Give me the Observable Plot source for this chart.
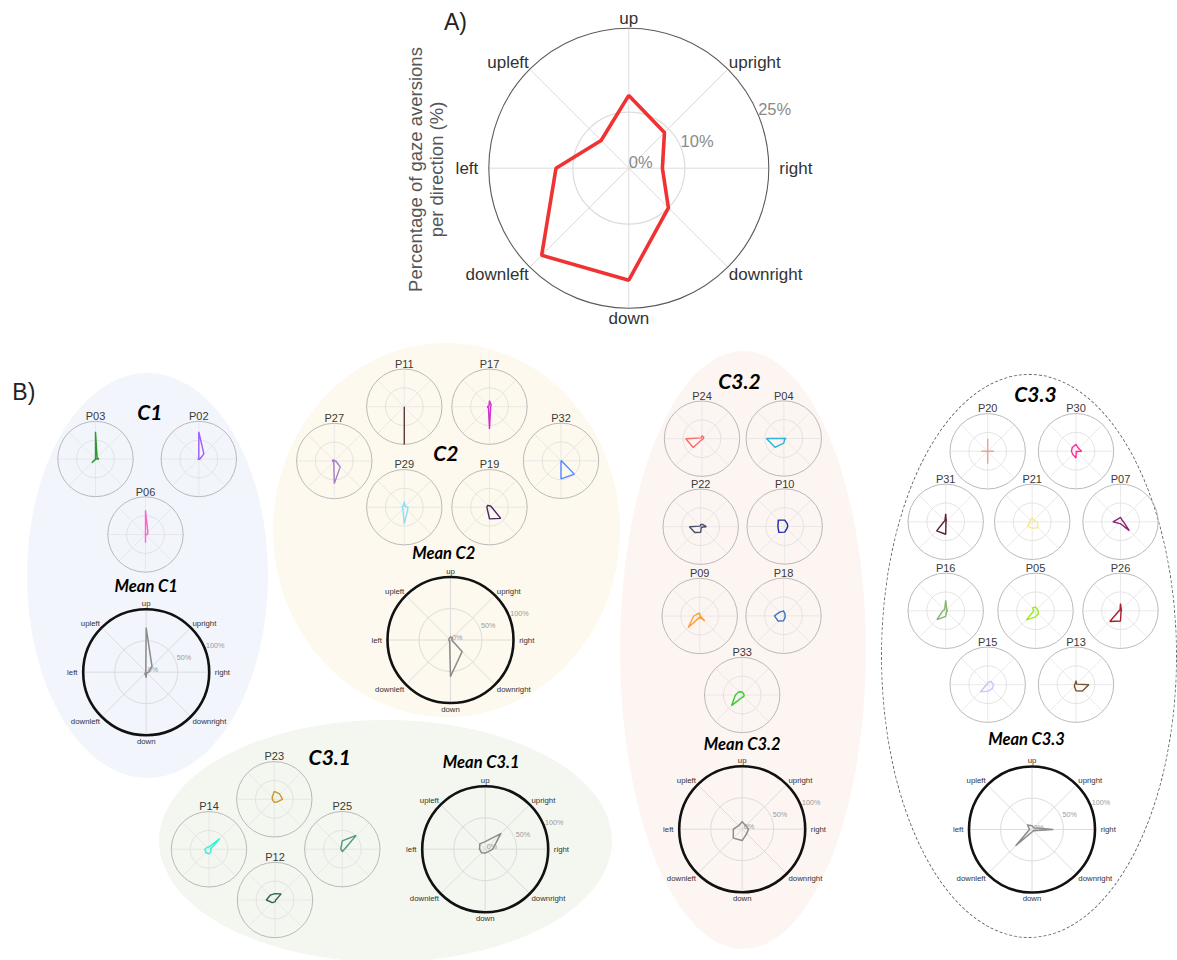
<!DOCTYPE html>
<html>
<head>
<meta charset="utf-8">
<script src="https://cdn.jsdelivr.net/npm/d3@7"></script>
<script src="https://cdn.jsdelivr.net/npm/@observablehq/plot@0.6"></script>
<style>
  html, body { margin: 0; padding: 0; background: #ffffff; }
  #wrap { position: relative; width: 1177px; height: 960px; overflow: hidden; background: #fff; }
  .ell { position: absolute; border-radius: 50%; box-sizing: border-box; }
  #chart { position: absolute; left: 0; top: 0; }
</style>
</head>
<body>
<div id="wrap"><div id="chart"></div></div>
<script>
// ---------------- DATA ----------------
const directions = ["up", "upright", "right", "downright", "down", "downleft", "left", "upleft"];

// Panel A: percentage of gaze aversions per direction (%)
const panelAValues = [13, 9, 6, 10, 20, 22, 13, 7];
const panelATicks = [0, 10, 25];
const panelATickLabels = ["0%", "10%", "25%"];

// Panel B: per-participant and per-cluster mean profiles (% of participant's aversions)
const meanTicks = [0, 50, 100];
const meanTickLabels = ["0%", "50%", "100%"];

const c1Names = ["P03", "P02", "P06"];
const c1Values = [
  [72, 6, 9, 0, 1, 14, 0, 0],
  [72, 19, 3, 1, 1, 1, 3, 0],
  [64, 9, 5, 0, 22, 0, 0, 0]
];
const c1Mean = [70, 13, 4, 1, 8, 3, 0, 1];

const c2Names = ["P11", "P17", "P27", "P32", "P29", "P19"];
const c2Values = [
  [0, 0, 0, 0, 100, 0, 0, 0],
  [16, 6, 3, 4, 59, 4, 6, 2],
  [1, 1, 4, 22, 60, 2, 5, 5],
  [0, 0, 1, 50, 48, 0, 0, 1],
  [15, 3, 10, 12, 44, 6, 6, 4],
  [4, 4, 6, 42, 31, 8, 7, 7]
];
const c2Mean = [5, 4, 2, 26, 58, 2, 3, 3];

const c31Names = ["P23", "P14", "P25", "P12"];
const c31Values = [
  [21, 20, 22, 10, 8, 5, 5, 8],
  [6, 40, 4, 8, 12, 12, 11, 7],
  [22, 52, 6, 4, 7, 3, 4, 5],
  [17, 23, 2, 2, 5, 10, 23, 18]
];
const c31Mean = [12, 35, 12, 6, 6, 8, 9, 12];

const c32Names = ["P24", "P04", "P22", "P10", "P09", "P18", "P33"];
const c32Values = [
  [8, 6, 4, 1, 2, 33, 43, 3],
  [0, 0, 6, 3, 12, 33, 46, 0],
  [6, 8, 15, 2, 15, 22, 30, 2],
  [17, 10, 8, 8, 15, 22, 18, 24],
  [8, 1, 2, 19, 3, 43, 16, 8],
  [13, 6, 4, 6, 13, 20, 24, 14],
  [8, 5, 5, 6, 6, 40, 18, 12]
];
const c32Mean = [12, 8, 10, 10, 18, 20, 14, 8];

const c33Names = ["P20", "P30", "P31", "P21", "P07", "P16", "P05", "P26", "P15", "P13"];
const c33Values = [
  [33, 0, 17, 0, 33, 0, 17, 0],
  [18, 10, 15, 1, 18, 12, 12, 14],
  [21, 2, 1, 1, 33, 34, 5, 3],
  [11, 5, 14, 22, 17, 17, 7, 7],
  [12, 6, 8, 33, 5, 6, 20, 10],
  [28, 4, 5, 3, 15, 33, 8, 4],
  [10, 6, 7, 11, 16, 34, 5, 11],
  [19, 3, 3, 2, 27, 40, 4, 2],
  [6, 12, 16, 16, 17, 27, 4, 2],
  [11, 2, 34, 24, 16, 6, 4, 3]
];
const c33Mean = [6, 4, 33, 3, 4, 36, 4, 10];

const clusterNames = ["C1", "C2", "C3.1", "C3.2", "C3.3"];

// ---------------- STYLES ----------------
const participantColors = {
  P03: "#2e9a2e", P02: "#9d5cff", P06: "#ff66cc",
  P11: "#5c3b3b", P17: "#d22ad2", P27: "#a87ccc", P32: "#5588ff", P29: "#88e0f8", P19: "#4b2466",
  P23: "#c89a2a", P14: "#33f0d8", P25: "#4a9a80", P12: "#2f6655",
  P24: "#ff6b6b", P04: "#2ab4d8", P22: "#4d4d6a", P10: "#2222aa", P09: "#ffa033", P18: "#3a70c0", P33: "#33cc33",
  P20: "#e8a595", P30: "#ff2b94", P31: "#5c1f33", P21: "#f7e88a", P07: "#8f2277", P16: "#85b370",
  P05: "#99ee22", P26: "#a8202e", P15: "#c4c4ff", P13: "#7a5230"
};
const ellipseStyles = [
  {cx: 385.5, cy: 841, rx: 226.5, ry: 121, bg: "#f3f7ef", border: "none"},
  {cx: 147.5, cy: 575.5, rx: 120.5, ry: 202.5, bg: "#f2f5fc", border: "none"},
  {cx: 446.5, cy: 530, rx: 173.5, ry: 187, bg: "#fdf9ee", border: "none"},
  {cx: 743, cy: 650, rx: 123, ry: 299, bg: "#fdf5f1", border: "none"},
  {cx: 1029, cy: 656, rx: 148, ry: 282, bg: "transparent", border: "1px dashed #666"}
];

// ---------------- LAYOUT ----------------
const W = 1177, H = 960;
const layoutA = {cx: 628.3, cy: 167.7, r: 140, max: 25};
const miniR = 37.7, meanR = 63;
const clusterLayouts = [
  {title: [149.3, 413], meanTitle: [145.7, 586], mean: [145.7, 671.7],
   minis: [[95, 458.5], [198.3, 458.5], [145, 534]]},
  {title: [445.3, 454], meanTitle: [443.3, 553.3], mean: [450, 639.5],
   minis: [[403.8, 406.2], [489, 406.2], [333.8, 460.5], [560.5, 460.3], [403.8, 506.7], [489, 506.7]]},
  {title: [329.3, 757.3], meanTitle: [480.7, 762.7], mean: [484.7, 848.7],
   minis: [[273.8, 798.8], [208.5, 848.8], [341.8, 848.7], [274.5, 899.5]]},
  {title: [739, 381.7], meanTitle: [741.7, 744], mean: [741.7, 828.7],
   minis: [[701.5, 438.2], [783.3, 438], [700.2, 526.2], [784.2, 526], [699.2, 615.5], [783, 615.3], [741.7, 694.5]]},
  {title: [1035, 395], meanTitle: [1026, 739], mean: [1031.5, 829],
   minis: [[987.2, 450.8], [1075.5, 450.7], [945.2, 521.3], [1031.7, 521.3], [1120, 521.3],
           [945.2, 610.3], [1035, 610.3], [1120, 610.3], [987.2, 684.2], [1075.5, 684.2]]}
];

// ---------------- BUILD ----------------
const wrap = document.getElementById("wrap");
for (const e of ellipseStyles) {
  const d = document.createElement("div");
  d.className = "ell";
  d.style.left = (e.cx - e.rx) + "px";
  d.style.top = (e.cy - e.ry) + "px";
  d.style.width = (2 * e.rx) + "px";
  d.style.height = (2 * e.ry) + "px";
  d.style.background = e.bg;
  d.style.border = e.border;
  wrap.insertBefore(d, document.getElementById("chart"));
}

const ANG = directions.map((_, i) => i * Math.PI / 4);
const pt = (cx, cy, rr, i) => [cx + rr * Math.sin(ANG[i % 8]), cy - rr * Math.cos(ANG[i % 8])];

const clusters = [
  {names: c1Names, values: c1Values, mean: c1Mean},
  {names: c2Names, values: c2Values, mean: c2Mean},
  {names: c31Names, values: c31Values, mean: c31Mean},
  {names: c32Names, values: c32Values, mean: c32Mean},
  {names: c33Names, values: c33Values, mean: c33Mean}
];

const spokesMain = [], spokesMini = [];
const miniCenters = [], meanCenters = [];
const polyA = [], polyMini = [], polyMean = [];
const miniLabels = [], clusterTitles = [], meanTitles = [];
const meanDirLabels = [], meanTickText = [];
const aDirLabels = [], aTickText = [];

function addSpokes(arr, cx, cy, R) {
  for (let i = 0; i < 4; i++) {
    const [x1, y1] = pt(cx, cy, R, i), [x2, y2] = pt(cx, cy, R, i + 4);
    arr.push({x1, y1, x2, y2});
  }
}
function addPoly(arr, id, cx, cy, R, max, values, color) {
  values.forEach((v, i) => {
    const [x, y] = pt(cx, cy, R * v / max, i);
    arr.push({id, x, y, color});
  });
}
function addDirLabels(arr, cx, cy, R, ud, lr, dg) {
  directions.forEach((d, i) => {
    const k = i % 4 === 0 ? ud : (i % 2 === 0 ? lr : dg);
    const [x, y] = pt(cx, cy, R * k, i);
    arr.push({x, y, text: d, i});
  });
}
function addTicks(arr, cx, cy, R, max, ticks, labels) {
  ticks.forEach((t, j) => {
    const rr = R * t / max;
    arr.push({x: cx + rr * Math.sin(3 * Math.PI / 8), y: cy - rr * Math.cos(3 * Math.PI / 8), text: labels[j]});
  });
}

// Panel A
addSpokes(spokesMain, layoutA.cx, layoutA.cy, layoutA.r);
addPoly(polyA, "A", layoutA.cx, layoutA.cy, layoutA.r, layoutA.max, panelAValues, "#f03232");
addDirLabels(aDirLabels, layoutA.cx, layoutA.cy, layoutA.r, 1.03, 1.075, 1.01);
addTicks(aTickText, layoutA.cx, layoutA.cy, layoutA.r, layoutA.max, panelATicks, panelATickLabels);

// Panel B
clusters.forEach((c, k) => {
  const L = clusterLayouts[k];
  clusterTitles.push({x: L.title[0], y: L.title[1], text: clusterNames[k]});
  meanTitles.push({x: L.meanTitle[0], y: L.meanTitle[1], text: "Mean " + clusterNames[k]});
  c.names.forEach((name, j) => {
    const [cx, cy] = L.minis[j];
    miniCenters.push({x: cx, y: cy});
    addSpokes(spokesMini, cx, cy, miniR);
    addPoly(polyMini, name, cx, cy, miniR, 100, c.values[j], participantColors[name]);
    miniLabels.push({x: cx, y: cy - 42.5, text: name});
  });
  const [mx, my] = L.mean;
  meanCenters.push({x: mx, y: my});
  addSpokes(spokesMain, mx, my, meanR);
  addPoly(polyMean, "M" + k, mx, my, meanR, 100, c.mean, "#8c8c8c");
  addDirLabels(meanDirLabels, mx, my, meanR, 1.05, 1.09, 1.04);
  addTicks(meanTickText, mx, my, meanR, 100, meanTicks, meanTickLabels);
});

const anchors = [
  ["middle", "bottom"], ["start", "bottom"], ["start", "middle"], ["start", "top"],
  ["middle", "top"], ["end", "top"], ["end", "middle"], ["end", "bottom"]
];
const SANS = "Liberation Sans, Arial, Helvetica, sans-serif";
const TITLE = "Lato, Open Sans, sans-serif";

function dirTextMarks(data, opts) {
  return anchors.map(([ta, la], i) => Plot.text(data.filter(d => d.i === i), {
    x: "x", y: "y", text: "text", textAnchor: ta, lineAnchor: la, fontFamily: SANS, ...opts
  }));
}

const marks = [
  // grid spokes
  Plot.link(spokesMini, {x1: "x1", y1: "y1", x2: "x2", y2: "y2", stroke: "#e4e4e4", strokeWidth: 0.8}),
  Plot.link(spokesMain, {x1: "x1", y1: "y1", x2: "x2", y2: "y2", stroke: "#dcdcdc", strokeWidth: 1}),
  // rings
  Plot.dot([{x: layoutA.cx, y: layoutA.cy}], {x: "x", y: "y", r: layoutA.r * 10 / 25, fill: "none", stroke: "#dcdcdc", strokeWidth: 1.2}),
  Plot.dot([{x: layoutA.cx, y: layoutA.cy}], {x: "x", y: "y", r: layoutA.r, fill: "none", stroke: "#5a5a5a", strokeWidth: 1.1}),
  Plot.dot(miniCenters, {x: "x", y: "y", r: miniR / 2, fill: "none", stroke: "#e0e0e0", strokeWidth: 0.9}),
  Plot.dot(miniCenters, {x: "x", y: "y", r: miniR, fill: "none", stroke: "#b2b2b2", strokeWidth: 0.9}),
  Plot.dot(meanCenters, {x: "x", y: "y", r: meanR / 2, fill: "none", stroke: "#dcdcdc", strokeWidth: 1}),
  Plot.dot(meanCenters, {x: "x", y: "y", r: meanR, fill: "none", stroke: "#111111", strokeWidth: 2.6}),
  // polygons
  Plot.line(polyMini, {x: "x", y: "y", z: "id", stroke: "color", strokeWidth: 1.4, curve: "linear-closed", strokeLinejoin: "miter"}),
  Plot.line(polyMean, {x: "x", y: "y", z: "id", stroke: "color", strokeWidth: 1.5, curve: "linear-closed"}),
  Plot.line(polyA, {x: "x", y: "y", z: "id", stroke: "color", strokeWidth: 3.6, curve: "linear-closed", strokeLinejoin: "miter"}),
  // panel A texts
  ...dirTextMarks(aDirLabels, {fontSize: 17, fill: "#333333"}),
  Plot.text(aTickText, {x: "x", y: "y", text: "text", textAnchor: "start", lineAnchor: "bottom", fontSize: 16.5, fill: "#8a8a8a", fontFamily: SANS}),
  Plot.text([{x: 425.4, y: 169, text: "Percentage of gaze aversions\nper direction (%)"}], {
    x: "x", y: "y", text: "text", rotate: -90, fontSize: 18.5, lineHeight: 1.12, fill: "#555555", fontFamily: SANS, textAnchor: "middle", lineAnchor: "middle"
  }),
  Plot.text([{x: 455, y: 21.7, text: "A)"}, {x: 23.3, y: 391.7, text: "B)"}], {
    x: "x", y: "y", text: "text", fontSize: 23, fill: "#222222", fontFamily: SANS, lineAnchor: "middle"
  }),
  // panel B texts
  ...dirTextMarks(meanDirLabels, {fontSize: 7.8, fill: "#333333"}),
  Plot.text(meanTickText, {x: "x", y: "y", text: "text", textAnchor: "start", lineAnchor: "bottom", dx: 1.5, fontSize: 7.2, fill: "#9a9a9a", fontFamily: SANS}),
  Plot.text(miniLabels, {x: "x", y: "y", text: "text", fontSize: 11, fill: "#3a3a3a", fontFamily: SANS, lineAnchor: "middle"}),
  Plot.text(clusterTitles, {x: "x", y: "y", text: "text", fontSize: 21, fontWeight: "bold", fontStyle: "italic", fill: "#000", fontFamily: TITLE, lineAnchor: "middle"}),
  Plot.text(meanTitles, {x: "x", y: "y", text: "text", fontSize: 16.5, fontWeight: "bold", fontStyle: "italic", fill: "#000", fontFamily: TITLE, lineAnchor: "middle"})
];

const chart = Plot.plot({
  width: W, height: H,
  marginTop: 0, marginRight: 0, marginBottom: 0, marginLeft: 0,
  x: {domain: [0, W], range: [0, W], axis: null},
  y: {domain: [0, H], range: [0, H], axis: null},
  color: {type: "identity"},
  style: {background: "transparent", overflow: "visible"},
  marks
});
document.getElementById("chart").appendChild(chart);
</script>
</body>
</html>
